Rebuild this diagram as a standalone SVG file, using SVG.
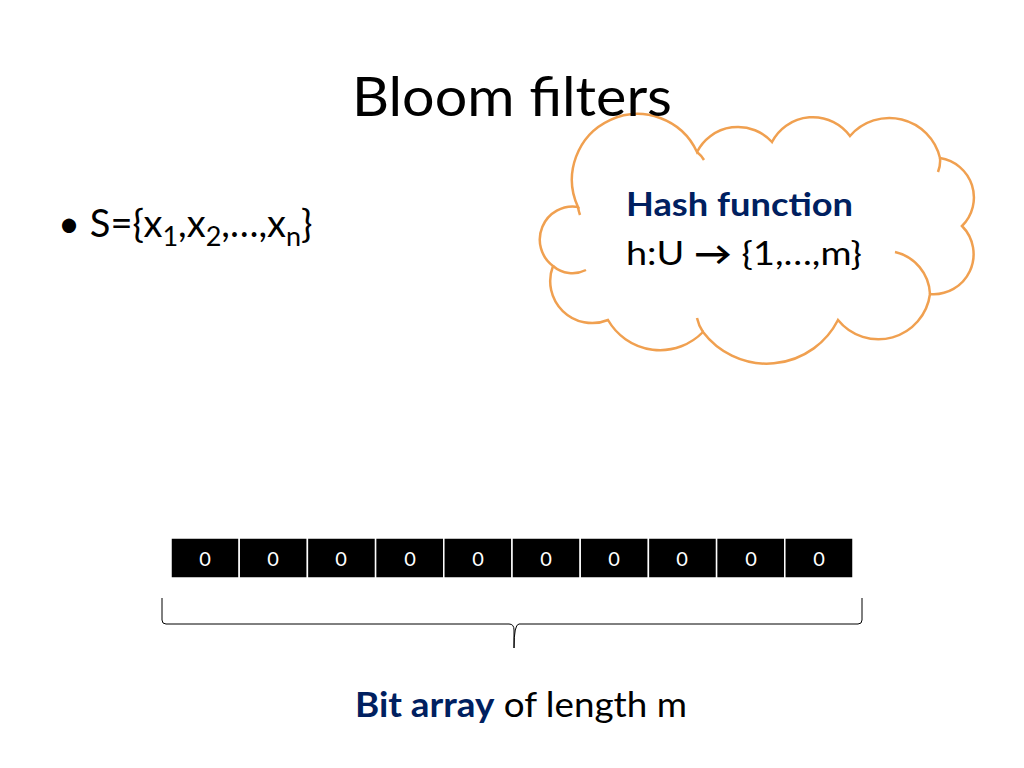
<svg xmlns="http://www.w3.org/2000/svg" width="1024" height="768" viewBox="0 0 1024 768">
<style>
text{font-family:Lato,"Open Sans","Liberation Sans",sans-serif;fill:#000}
.cell{fill:#000;stroke:#fff;stroke-width:1.5}
.bit{fill:#fff;font-size:20px;text-anchor:middle}
.blue{fill:#002060;font-weight:bold}
</style>
<rect width="1024" height="768" fill="#fff"/>
<g id="cloud">
<path d="M578,207 A62,62 0 0 1 697,152 A46,46 0 0 1 772,142 A46,46 0 0 1 850,136 A52,52 0 0 1 940,158 A40,40 0 0 1 962,226 A40,40 0 0 1 930,294 A52,52 0 0 1 838,320 A80,80 0 0 1 703,332 A60,60 0 0 1 608,320 A42,42 0 0 1 553,266 A33,33 0 0 1 578,207 Z" fill="#fff" stroke="#f0a050" stroke-width="2.5"/>
<path d="M553,266 A30,30 0 0 0 586,270 M703,332 A40,40 0 0 1 697,318 M930,294 A45,45 0 0 0 895,252 M940,158 A30,30 0 0 1 938,172 M697,152 A30,30 0 0 1 704,160 M578,207 A40,40 0 0 0 580,215" fill="none" stroke="#f0a050" stroke-width="2.5"/>
</g>
<text x="352" y="116" font-size="54" textLength="320" lengthAdjust="spacingAndGlyphs">Bloom filters</text>
<text x="58" y="237" font-size="38">• S={x<tspan font-size="27" dy="9">1</tspan><tspan dy="-9">,x</tspan><tspan font-size="27" dy="9">2</tspan><tspan dy="-9">,…,x</tspan><tspan font-size="27" dy="9">n</tspan><tspan dy="-9">}</tspan></text>
<g id="hash">
<text x="626" y="216" font-size="32" class="blue" textLength="227" lengthAdjust="spacingAndGlyphs">Hash function</text>
<text x="626" y="265" font-size="32" textLength="236" lengthAdjust="spacingAndGlyphs">h:U <tspan font-weight="bold">→</tspan> {1,…,m}</text>
</g>
<g id="bitarray">
<rect class="cell" x="171" y="538" width="68.2" height="40"/>
<rect class="cell" x="239.2" y="538" width="68.2" height="40"/>
<rect class="cell" x="307.4" y="538" width="68.2" height="40"/>
<rect class="cell" x="375.6" y="538" width="68.2" height="40"/>
<rect class="cell" x="443.8" y="538" width="68.2" height="40"/>
<rect class="cell" x="512" y="538" width="68.2" height="40"/>
<rect class="cell" x="580.2" y="538" width="68.2" height="40"/>
<rect class="cell" x="648.4" y="538" width="68.2" height="40"/>
<rect class="cell" x="716.6" y="538" width="68.2" height="40"/>
<rect class="cell" x="784.8" y="538" width="68.2" height="40"/>
<text class="bit" x="205" y="566">0</text><text class="bit" x="273" y="566">0</text><text class="bit" x="341" y="566">0</text><text class="bit" x="410" y="566">0</text><text class="bit" x="478" y="566">0</text><text class="bit" x="546" y="566">0</text><text class="bit" x="614" y="566">0</text><text class="bit" x="682" y="566">0</text><text class="bit" x="751" y="566">0</text><text class="bit" x="819" y="566">0</text>
</g>
<g id="connectors">
<path d="M162,598 V620 Q162,624 166,624 H509 Q514,624 514,630 V648 Q514,624 519,624 H858 Q862,624 862,620 V598" fill="none" stroke="#000" stroke-width="1"/>
</g>
<text x="355" y="717" font-size="34" textLength="332" lengthAdjust="spacingAndGlyphs"><tspan class="blue">Bit array</tspan> of length m</text>
</svg>
